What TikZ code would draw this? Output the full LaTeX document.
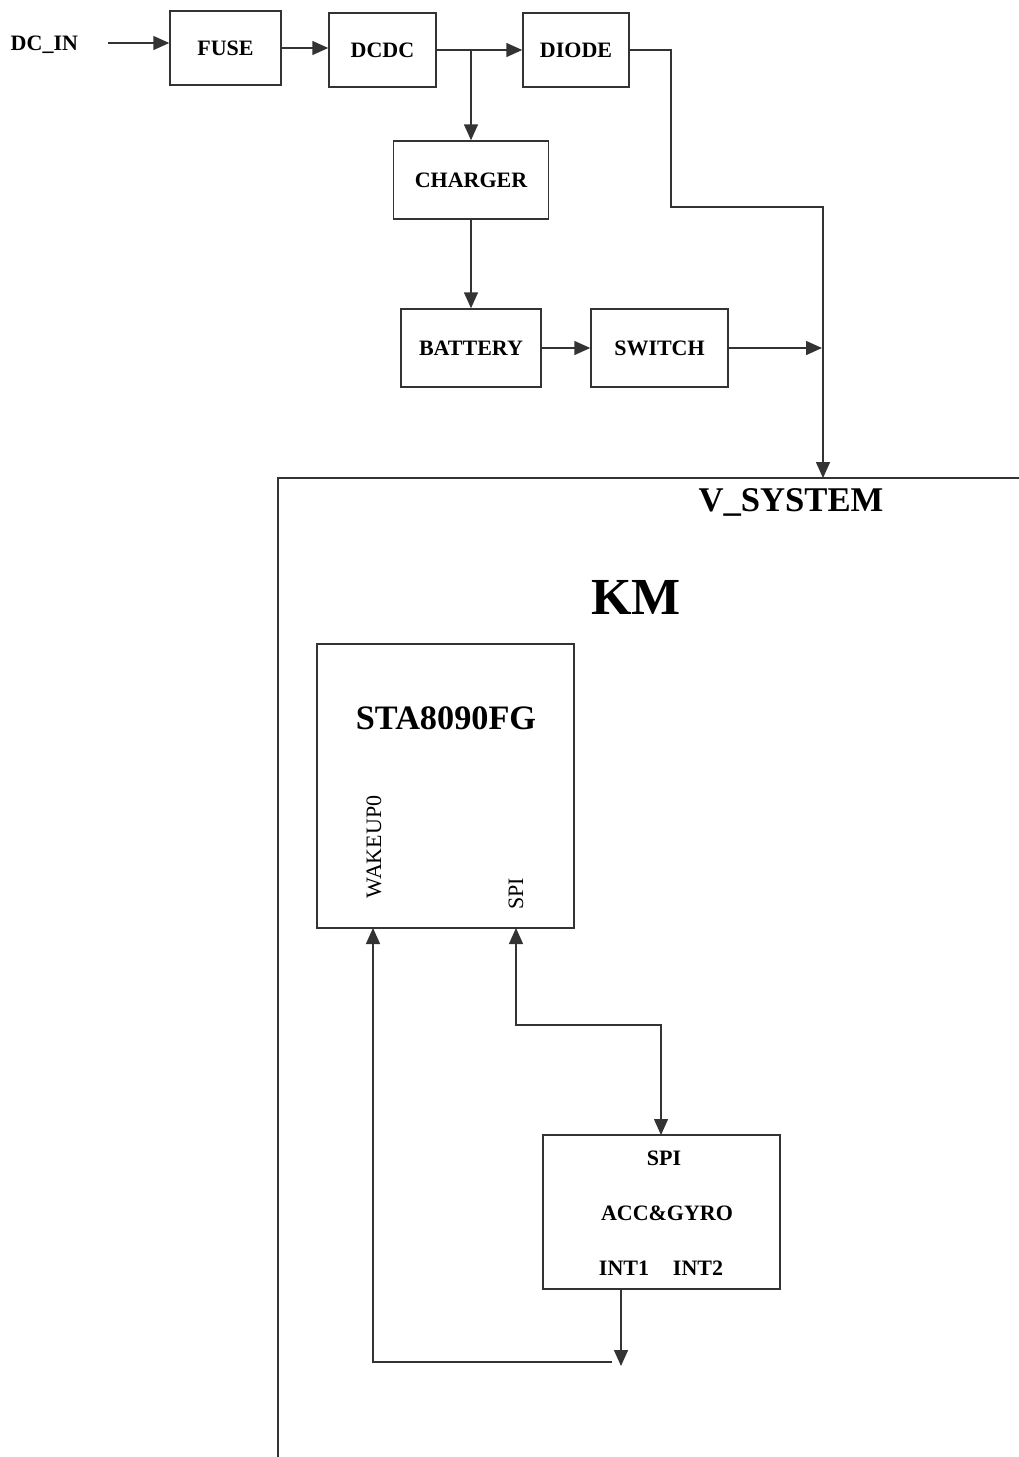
\documentclass[tikz,border=0pt]{standalone}
\usepackage{fontspec}
\setmainfont{Liberation Serif}
\usetikzlibrary{arrows.meta}
\newdimen\upx \upx=0.75pt
\begin{document}
\begin{tikzpicture}[x=0.75pt,y=-0.75pt,
  line width=1.1pt, draw=black!80,
  arr/.style={-{Triangle[length=12pt,width=10.5pt]}},
  arrb/.style={{Triangle[length=12pt,width=10.5pt]}-{Triangle[length=12pt,width=10.5pt]}},
  blk/.style={draw, rectangle, inner sep=0pt, font=\fontsize{16.5}{18}\selectfont\bfseries},
  lbl/.style={inner sep=0pt, font=\fontsize{16.5}{18}\selectfont\bfseries},
  rlbl/.style={inner sep=0pt, font=\fontsize{16.5}{18}\selectfont, rotate=90}]
\useasboundingbox (0,0) rectangle (1019,1457);
% top chain
\node[lbl, anchor=base west] (dcin) at (10,50) {DC\_IN};
\coordinate (dcst) at (108,43);
\node[blk, minimum width=111\upx, minimum height=74\upx] (fuse) at (225.5,48) {FUSE};
\node[blk, minimum width=107\upx, minimum height=74\upx] (dcdc) at (382.5,50) {DCDC};
\node[blk, minimum width=106\upx, minimum height=74\upx] (diode) at (576,50) {DIODE};
\node[blk, minimum width=155\upx, minimum height=78\upx] (charger) at (471,180) {CHARGER};
\node[blk, minimum width=140\upx, minimum height=78\upx] (battery) at (471,348) {BATTERY};
\node[blk, minimum width=137\upx, minimum height=78\upx] (switch) at (659.5,348) {SWITCH};
\coordinate (j) at (471,50);
\coordinate (d1) at (671,50);
\coordinate (d2) at (823,207);
\coordinate (vsys) at (823,478);
\coordinate (sw) at (822,348);
\draw[arr] (dcst) -- (dcst -| fuse.west);
\draw[arr] (fuse.east) -- (fuse.east -| dcdc.west);
\draw[arr] (dcdc.east) -- (diode.west);
\draw[arr] (j) -- (charger.north);
\draw[arr] (charger.south) -- (battery.north);
\draw[arr] (battery.east) -- (switch.west);
\draw[arr] (switch.east) -- (sw);
\draw[arr] (diode.east) -- (d1) |- (d2) -- (vsys);
% KM frame
\coordinate (kmtr) at (1019,478);
\coordinate (kmtl) at (278,478);
\coordinate (kmbl) at (278,1457);
\draw (kmtr) -- (kmtl) -- (kmbl);
\node[inner sep=0pt, font=\fontsize{26}{28}\selectfont\bfseries] (vsyslbl) at (791,502) {V\_SYSTEM};
\node[inner sep=0pt, font=\fontsize{39}{42}\selectfont\bfseries] (km) at (636,597) {KM};
% STA8090FG
\node[draw, rectangle, inner sep=0pt, minimum width=257\upx, minimum height=284\upx] (sta) at (445.5,786) {};
\node[inner sep=0pt, font=\fontsize{25.7}{28}\selectfont\bfseries] (statxt) at (446,718) {STA8090FG};
\node[rlbl] (wake) at (374,847) {WAKEUP0};
\node[rlbl] (spia) at (516,894) {SPI};
% ACC&GYRO
\node[draw, rectangle, inner sep=0pt, minimum width=237\upx, minimum height=154\upx] (acc) at (661.5,1212) {};
\node[lbl] (spib) at (664,1158) {SPI};
\node[lbl] (accg) at (667,1213) {ACC\&GYRO};
\node[lbl] (int1) at (624,1268) {INT1};
\node[lbl] (int2) at (698,1268) {INT2};
% connections
\coordinate (spiin) at (516,928);
\coordinate (s1) at (516,1025);
\coordinate (s2) at (661,1025);
\coordinate (accin) at (661,1135);
\draw[arrb] (spiin) -- (s1) -- (s2) -- (accin);
\coordinate (i0) at (621,1289);
\coordinate (i1) at (621,1366);
\draw[arr] (i0) -- (i1);
\coordinate (h1) at (612,1362);
\coordinate (wkp) at (373,928);
\draw[arr] (h1) -| (wkp);
\end{tikzpicture}
\end{document}
